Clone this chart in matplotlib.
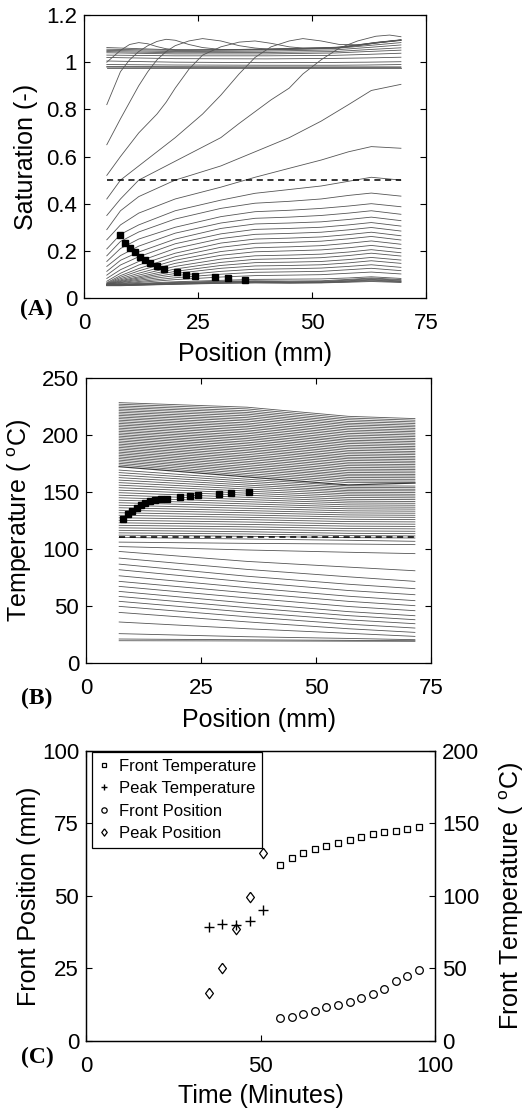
import numpy as np
import matplotlib.pyplot as plt
from matplotlib.path import Path

plt.rcParams['font.family'] = ['Liberation Sans', 'DejaVu Sans']
plt.rcParams['mathtext.fontset'] = 'custom'
plt.rcParams['mathtext.rm'] = 'Liberation Sans'
plt.rcParams['axes.linewidth'] = 0.9

# ---------------- panel A: saturation profiles ----------------
xa_low = [5, 8, 12, 20, 30, 37.5, 45, 52, 58, 63, 69.5]
sat_low = [
    [0.290, 0.370, 0.430, 0.500, 0.560, 0.620, 0.680, 0.750, 0.820, 0.880, 0.906],
    [0.247, 0.310, 0.360, 0.420, 0.470, 0.512, 0.550, 0.585, 0.620, 0.642, 0.635],
    [0.208, 0.270, 0.310, 0.370, 0.415, 0.444, 0.460, 0.475, 0.495, 0.512, 0.500],
    [0.179, 0.240, 0.280, 0.335, 0.380, 0.402, 0.410, 0.420, 0.435, 0.445, 0.432],
    [0.155, 0.210, 0.250, 0.300, 0.345, 0.366, 0.372, 0.380, 0.390, 0.400, 0.387],
    [0.134, 0.180, 0.220, 0.275, 0.318, 0.338, 0.343, 0.350, 0.360, 0.370, 0.355],
    [0.113, 0.160, 0.195, 0.250, 0.295, 0.314, 0.318, 0.323, 0.333, 0.343, 0.328],
    [0.097, 0.140, 0.175, 0.230, 0.272, 0.291, 0.295, 0.300, 0.310, 0.320, 0.305],
    [0.083, 0.120, 0.155, 0.210, 0.252, 0.270, 0.274, 0.279, 0.289, 0.299, 0.284],
    [0.071, 0.105, 0.140, 0.190, 0.233, 0.250, 0.254, 0.259, 0.269, 0.279, 0.264],
    [0.065, 0.095, 0.125, 0.175, 0.215, 0.232, 0.236, 0.241, 0.251, 0.261, 0.246],
    [0.062, 0.088, 0.115, 0.160, 0.197, 0.213, 0.217, 0.222, 0.232, 0.242, 0.228],
    [0.060, 0.082, 0.105, 0.147, 0.181, 0.196, 0.200, 0.204, 0.213, 0.223, 0.209],
    [0.059, 0.077, 0.097, 0.134, 0.165, 0.179, 0.182, 0.186, 0.195, 0.205, 0.192],
    [0.058, 0.073, 0.090, 0.123, 0.151, 0.164, 0.167, 0.171, 0.180, 0.190, 0.178],
    [0.058, 0.070, 0.085, 0.113, 0.138, 0.150, 0.152, 0.155, 0.163, 0.172, 0.161],
    [0.057, 0.067, 0.080, 0.104, 0.126, 0.136, 0.138, 0.141, 0.149, 0.158, 0.147],
    [0.057, 0.065, 0.075, 0.095, 0.113, 0.122, 0.124, 0.127, 0.134, 0.141, 0.130],
    [0.056, 0.062, 0.070, 0.086, 0.101, 0.109, 0.111, 0.113, 0.120, 0.126, 0.116],
    [0.056, 0.060, 0.066, 0.078, 0.089, 0.095, 0.097, 0.099, 0.105, 0.110, 0.102],
    [0.056, 0.058, 0.062, 0.069, 0.075, 0.079, 0.080, 0.081, 0.085, 0.090, 0.083],
    [0.056, 0.057, 0.060, 0.066, 0.071, 0.073, 0.072, 0.073, 0.079, 0.085, 0.078],
    [0.055, 0.056, 0.058, 0.064, 0.069, 0.071, 0.069, 0.070, 0.076, 0.082, 0.075],
    [0.054, 0.055, 0.057, 0.062, 0.067, 0.069, 0.067, 0.068, 0.073, 0.079, 0.072],
    [0.053, 0.054, 0.056, 0.060, 0.065, 0.067, 0.065, 0.066, 0.071, 0.076, 0.070],
    [0.053, 0.053, 0.055, 0.059, 0.063, 0.065, 0.064, 0.065, 0.069, 0.073, 0.068],
    [0.052, 0.052, 0.054, 0.058, 0.062, 0.064, 0.063, 0.064, 0.067, 0.070, 0.066],
]

xa_front = [5, 8, 10, 12, 14, 16, 18, 20, 23, 26, 30, 34, 37.5, 41, 45, 48,
            52, 56, 60, 64, 67, 69.5]
sat_front = [
    [1.000, 1.050, 1.075, 1.083, 1.078, 1.066, 1.057, 1.053, 1.052, 1.052, 1.052,
     1.053, 1.054, 1.055, 1.057, 1.058, 1.060, 1.063, 1.072, 1.083, 1.089, 1.094],
    [0.820, 0.960, 1.010, 1.045, 1.070, 1.088, 1.097, 1.093, 1.075, 1.062, 1.054,
     1.054, 1.055, 1.056, 1.058, 1.059, 1.061, 1.064, 1.073, 1.084, 1.090, 1.095],
    [0.650, 0.760, 0.830, 0.900, 0.960, 1.010, 1.045, 1.070, 1.090, 1.100, 1.090,
     1.070, 1.060, 1.054, 1.055, 1.056, 1.058, 1.061, 1.070, 1.081, 1.087, 1.092],
    [0.520, 0.600, 0.650, 0.700, 0.740, 0.780, 0.830, 0.890, 0.970, 1.030, 1.065,
     1.085, 1.090, 1.080, 1.065, 1.060, 1.059, 1.062, 1.071, 1.082, 1.088, 1.093],
    [0.420, 0.500, 0.530, 0.560, 0.590, 0.620, 0.650, 0.680, 0.730, 0.780, 0.860,
     0.950, 1.020, 1.065, 1.090, 1.100, 1.090, 1.075, 1.074, 1.083, 1.089, 1.094],
    [0.350, 0.420, 0.460, 0.500, 0.520, 0.540, 0.560, 0.580, 0.610, 0.640, 0.680,
     0.740, 0.790, 0.840, 0.890, 0.950, 1.010, 1.060, 1.090, 1.110, 1.115, 1.108],
]

xa_flat = [5, 20, 40, 55, 62, 69.5]
sat_flat = [
    [1.062, 1.052, 1.055, 1.062, 1.076, 1.094],
    [1.055, 1.050, 1.052, 1.058, 1.070, 1.083],
    [1.050, 1.045, 1.047, 1.052, 1.062, 1.073],
    [1.045, 1.040, 1.041, 1.045, 1.053, 1.061],
    [1.040, 1.035, 1.035, 1.039, 1.045, 1.051],
    [1.030, 1.027, 1.027, 1.029, 1.033, 1.038],
    [1.020, 1.015, 1.014, 1.016, 1.018, 1.021],
    [1.005, 1.000, 0.998, 0.999, 1.000, 1.002],
    [0.990, 0.988, 0.987, 0.987, 0.988, 0.990],
    [0.982, 0.981, 0.980, 0.980, 0.980, 0.980],
    [0.979, 0.978, 0.978, 0.978, 0.978, 0.978],
    [0.977, 0.977, 0.977, 0.977, 0.977, 0.977],
]
sat_dash_x = [5, 69.5]
sat_dash_y = [0.5, 0.5]

sat_front_x = [7.9, 9.0, 10.1, 11.2, 12.3, 13.4, 14.5, 15.9, 17.5, 20.3, 22.4,
               24.3, 28.7, 31.5, 35.3]
sat_front_y = [0.268, 0.233, 0.212, 0.195, 0.176, 0.160, 0.148, 0.134, 0.124,
               0.109, 0.099, 0.092, 0.088, 0.083, 0.078]

# ---------------- panel B: temperature profiles ----------------
xb = [7.2, 35, 57, 71.5]
temp_lower = [
    [110.0, 108.6, 107.5, 106.6], [105.9, 104.8, 104.2, 103.7],
    [102.0, 99.0, 97.0, 95.8], [97.7, 89.0, 84.0, 80.8],
    [91.9, 82.0, 75.5, 71.5], [86.6, 76.0, 69.0, 65.1],
    [81.7, 71.0, 63.5, 59.8], [76.4, 66.0, 58.5, 54.6],
    [71.5, 61.5, 54.0, 50.2], [67.1, 57.0, 49.5, 45.8],
    [62.7, 52.5, 45.0, 41.4], [58.3, 48.5, 41.5, 37.9],
    [54.0, 44.5, 37.8, 34.4], [49.6, 40.5, 34.0, 30.6],
    [44.3, 36.0, 30.0, 26.8], [35.9, 30.0, 26.0, 23.3],
    [25.7, 23.0, 21.5, 20.4], [21.0, 20.3, 19.8, 19.5],
    [19.5, 19.3, 19.1, 19.0],
]
temp_middle = [
    [112.0, 111.0, 109.8, 109.5], [114.0, 113.0, 111.6, 111.3],
    [116.2, 115.0, 113.6, 113.3], [118.4, 117.2, 115.7, 115.4],
    [120.6, 119.3, 117.8, 117.5], [122.8, 121.4, 119.9, 119.6],
    [125.0, 123.5, 121.9, 121.6], [127.2, 125.6, 123.9, 123.6],
    [129.4, 127.6, 125.9, 125.6], [131.6, 129.6, 127.9, 127.6],
    [133.8, 131.6, 129.7, 129.4], [136.0, 133.5, 131.5, 131.2],
    [138.2, 135.5, 133.3, 133.0], [140.4, 137.5, 135.1, 134.8],
    [142.6, 139.4, 136.8, 136.5], [144.8, 141.3, 138.5, 138.2],
    [147.0, 143.2, 140.2, 139.9], [149.2, 145.1, 141.8, 141.5],
    [151.4, 147.0, 143.4, 143.1], [153.6, 148.8, 145.0, 144.7],
    [155.8, 150.6, 146.6, 146.3], [158.0, 152.4, 148.1, 147.8],
    [160.2, 154.2, 149.6, 149.3], [162.4, 155.9, 151.0, 150.8],
    [164.6, 157.6, 152.4, 152.2], [166.8, 159.3, 153.8, 153.6],
    [169.0, 161.0, 155.2, 155.0],
]
temp_dark = [172.0, 163.0, 156.0, 157.6]
temp_upper = [
    [173.5, 164.5, 158.0, 158.0], [174.9, 166.0, 159.5, 159.4],
    [176.3, 167.6, 161.0, 160.9], [177.7, 169.1, 162.5, 162.3],
    [179.1, 170.6, 164.0, 163.8], [180.5, 172.1, 165.4, 165.2],
    [181.9, 173.7, 166.9, 166.6], [183.3, 175.2, 168.4, 168.1],
    [184.7, 176.7, 169.9, 169.5], [186.1, 178.3, 171.4, 170.9],
    [187.5, 179.8, 172.9, 172.4], [188.9, 181.3, 174.4, 173.8],
    [190.3, 182.8, 175.9, 175.3], [191.7, 184.4, 177.4, 176.7],
    [193.1, 185.9, 178.9, 178.1], [194.5, 187.4, 180.3, 179.6],
    [195.9, 188.9, 181.8, 181.0], [197.3, 190.5, 183.3, 182.5],
    [198.7, 192.0, 184.8, 183.9], [200.1, 193.5, 186.3, 185.3],
    [201.5, 195.1, 187.8, 186.8], [202.9, 196.6, 189.3, 188.2],
    [204.3, 198.1, 190.8, 189.6], [205.7, 199.6, 192.3, 191.1],
    [207.1, 201.2, 193.8, 192.5], [208.5, 202.7, 195.2, 194.0],
    [209.9, 204.2, 196.7, 195.4], [211.3, 205.8, 198.2, 196.8],
    [212.7, 207.3, 199.7, 198.3], [214.1, 208.8, 201.2, 199.7],
    [215.5, 210.3, 202.7, 201.2], [216.9, 211.9, 204.2, 202.6],
    [218.3, 213.4, 205.7, 204.0], [219.7, 214.9, 207.2, 205.5],
    [221.1, 216.5, 208.7, 206.9], [222.5, 218.0, 210.1, 208.3],
    [223.9, 219.5, 211.6, 209.8], [225.3, 221.0, 213.1, 211.2],
    [226.7, 222.6, 214.6, 212.7], [228.1, 224.1, 216.1, 214.1],
]
temp_dash_x = [7.2, 71.5]
temp_dash_y = [110, 110]

temp_front_x = [8.1, 9.2, 10.1, 11.0, 11.9, 12.9, 14.0, 15.1, 16.2, 17.7, 20.5,
                22.5, 24.4, 28.8, 31.5, 35.4]
temp_front_y = [126.3, 130.7, 133.3, 135.9, 138.0, 140.0, 141.5, 142.6, 143.5,
                143.8, 145.0, 145.9, 147.0, 147.9, 148.8, 149.4]

# ---------------- panel C: front tracking ----------------
time_front = [55.7, 59.0, 62.3, 65.6, 68.9, 72.2, 75.5, 78.8, 82.1, 85.4, 88.7,
              92.0, 95.3]
front_temp = [121.2, 126.1, 129.4, 132.1, 134.6, 136.6, 138.6, 140.6, 142.4,
              144.1, 145.1, 146.1, 147.4]
front_pos = [8.0, 8.3, 9.1, 10.1, 11.5, 12.5, 13.5, 14.8, 16.1, 17.8, 20.6,
             22.5, 24.4]
time_peak = [35.2, 39.1, 43.0, 46.9, 50.8]
peak_temp = [78.3, 80.5, 79.9, 83.0, 90.2]
peak_pos = [16.4, 25.0, 38.5, 49.7, 64.7]

gray = '#555555'
lw = 0.6

fig = plt.figure(figsize=(5.32, 11.12), dpi=100)


def style(ax, xpad=11):
    ax.tick_params(direction='in', length=4, width=0.8, top=True, right=True,
                   labelsize=16)
    ax.tick_params(axis='x', pad=xpad)
    ax.tick_params(axis='y', pad=5)


# Panel A
ax1 = fig.add_axes([0.1579, 0.7320, 0.6429, 0.2545])
for row in sat_low:
    ax1.plot(xa_low, row, color=gray, lw=lw)
for row in sat_flat:
    ax1.plot(xa_flat, row, color=gray, lw=lw)
for row in sat_front:
    ax1.plot(xa_front, row, color=gray, lw=lw)
ax1.plot(sat_dash_x, sat_dash_y, color='black', lw=1.1, dashes=(4, 3))
ax1.plot(sat_front_x, sat_front_y, 's', color='black', ms=5)
ax1.set_xlim(0, 75)
ax1.set_ylim(0, 1.2)
ax1.set_xticks([0, 25, 50, 75])
ax1.set_yticks([0, 0.2, 0.4, 0.6, 0.8, 1.0, 1.2])
ax1.set_yticklabels(['0', '0.2', '0.4', '0.6', '0.8', '1', '1.2'])
style(ax1)
ax1.set_xlabel('Position (mm)', fontsize=18)
ax1.set_ylabel('Saturation (-)', fontsize=18)
ax1.xaxis.set_label_coords(0.5, -0.155)
ax1.yaxis.set_label_coords(-0.135, 0.5)

# Panel B
ax2 = fig.add_axes([0.1617, 0.4038, 0.6485, 0.2566])
for row in temp_lower + temp_middle + temp_upper:
    ax2.plot(xb, row, color=gray, lw=lw)
ax2.plot(xb, temp_dark, color='#3a3a3a', lw=0.9)
ax2.plot(temp_dash_x, temp_dash_y, color='black', lw=1.1, dashes=(4, 3))
ax2.plot(temp_front_x, temp_front_y, 's', color='black', ms=5)
ax2.set_xlim(0, 75)
ax2.set_ylim(0, 250)
ax2.set_xticks([0, 25, 50, 75])
ax2.set_yticks([0, 50, 100, 150, 200, 250])
style(ax2)
ax2.set_xlabel('Position (mm)', fontsize=18)
ax2.set_ylabel(r'Temperature ( $^{\mathrm{o}}$C)', fontsize=18)
ax2.xaxis.set_label_coords(0.5, -0.158)
ax2.yaxis.set_label_coords(-0.15, 0.5)

# Panel C
ax3 = fig.add_axes([0.1617, 0.0641, 0.6560, 0.2605])
ax4 = ax3.twinx()
diamond = Path([(0, 1), (0.75, 0), (0, -1), (-0.75, 0), (0, 1)])
h1, = ax4.plot(time_front, front_temp, 's', mfc='none', mec='black', ms=4.5,
               mew=0.9, label='Front Temperature')
h2, = ax4.plot(time_peak, peak_temp, '+', color='black', ms=6.5, mew=1.0,
               label='Peak Temperature')
h3, = ax3.plot(time_front, front_pos, 'o', mfc='none', mec='black', ms=5.5,
               mew=0.9, label='Front Position')
h4, = ax3.plot(time_peak, peak_pos, marker=diamond, ls='none', mfc='none',
               mec='black', ms=7.5, mew=0.9, label='Peak Position')
ax3.set_xlim(0, 100)
ax3.set_ylim(0, 100)
ax4.set_ylim(0, 200)
ax3.set_xticks([0, 50, 100])
ax3.set_yticks([0, 25, 50, 75, 100])
ax4.set_yticks([0, 50, 100, 150, 200])
ax3.tick_params(direction='in', length=4, width=0.8, top=True, right=False,
                labelsize=16)
ax3.tick_params(axis='x', pad=11)
ax3.tick_params(axis='y', pad=5)
ax4.tick_params(direction='in', length=4, width=0.8, labelsize=16, pad=5)
ax3.set_xlabel('Time (Minutes)', fontsize=18)
ax3.set_ylabel('Front Position (mm)', fontsize=18)
ax4.set_ylabel(r'Front Temperature ( $^{\mathrm{o}}$C)', fontsize=18)
ax3.xaxis.set_label_coords(0.5, -0.15)
ax3.yaxis.set_label_coords(-0.13, 0.5)
ax4.yaxis.set_label_coords(1.18, 0.5)
leg = ax4.legend(handles=[h1, h2, h3, h4], loc='upper left',
                 bbox_to_anchor=(0.017, 0.997), borderaxespad=0, fontsize=12,
                 fancybox=False, framealpha=1, edgecolor='black',
                 handlelength=0.7, handletextpad=0.5, markerscale=0.7,
                 labelspacing=0.45, borderpad=0.4)
leg.get_frame().set_linewidth(0.9)

# panel letters
fig.text(0.037, 0.722, '(A)', fontfamily='Liberation Serif', fontweight='bold',
         fontsize=17, va='center')
fig.text(0.039, 0.372, '(B)', fontfamily='Liberation Serif', fontweight='bold',
         fontsize=17, va='center')
fig.text(0.039, 0.0495, '(C)', fontfamily='Liberation Serif', fontweight='bold',
         fontsize=17, va='center')

fig.savefig('out.png', dpi=100)
